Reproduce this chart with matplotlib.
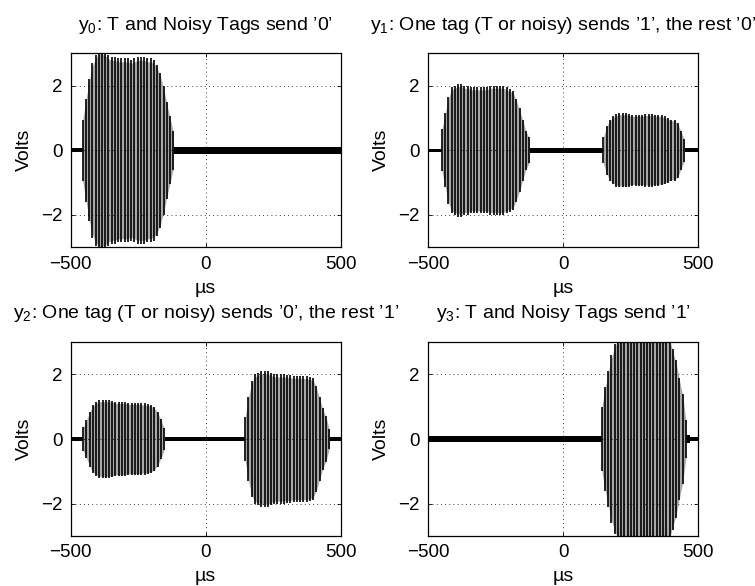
import numpy as np
import matplotlib
matplotlib.use("Agg")
import matplotlib.pyplot as plt

plt.rcParams['font.family'] = ['Liberation Sans', 'DejaVu Sans']
plt.rcParams['mathtext.fontset'] = 'custom'
plt.rcParams['mathtext.rm'] = 'Liberation Sans'
plt.rcParams['mathtext.it'] = 'Liberation Sans'
plt.rcParams['font.size'] = 14

# stroke spacing of the RF bursts (microseconds)
STEP = 12

titles = [
    "y$_0$: T and Noisy Tags send ’0’",
    "y$_1$: One tag (T or noisy) sends ’1’, the rest ’0’",
    "y$_2$: One tag (T or noisy) sends ’0’, the rest ’1’",
    "y$_3$: T and Noisy Tags send ’1’",
]

# bursts: (start time in us, peak amplitude of each stroke in volts)
y0_bursts = [
    (-456, [0.95, 1.6, 2.2, 2.7, 2.95, 3.1, 3.1, 3.05, 2.95, 2.9, 2.9, 2.85, 2.85,
            2.85, 2.85, 2.8, 2.85, 2.9, 2.9, 2.9, 2.85, 2.85, 2.8, 2.65, 2.4, 2.0,
            1.5, 1.05, 0.6]),
]
y1_bursts = [
    (-450, [0.65, 1.15, 1.65, 1.95, 2.0, 2.05, 2.05, 2.0, 2.0, 1.95, 1.95, 1.95,
            1.95, 1.95, 1.95, 2.0, 2.0, 2.0, 2.0, 2.0, 1.95, 1.9, 1.85, 1.6, 1.3,
            0.95, 0.6, 0.4]),
    (148, [0.4, 0.75, 0.95, 1.05, 1.12, 1.15, 1.15, 1.15, 1.12, 1.1, 1.1, 1.1,
           1.1, 1.12, 1.12, 1.12, 1.1, 1.1, 1.08, 1.05, 1.0, 0.95, 0.95, 0.85,
           0.6, 0.35]),
]
y2_bursts = [
    (-454, [0.36, 0.6, 0.85, 1.05, 1.15, 1.2, 1.2, 1.2, 1.2, 1.18, 1.15, 1.15,
            1.15, 1.15, 1.12, 1.12, 1.12, 1.12, 1.1, 1.1, 1.08, 1.05, 1.0, 0.85,
            0.62, 0.35]),
    (146, [0.67, 1.3, 1.8, 2.0, 2.05, 2.1, 2.1, 2.1, 2.05, 2.0, 2.0, 2.0, 2.0,
           1.98, 1.98, 1.95, 1.95, 1.95, 1.95, 1.95, 1.92, 1.9, 1.65, 1.3, 0.95,
           0.7, 0.3]),
]
y3_bursts = [
    (142, [1.0, 1.6, 2.1, 2.6, 2.95, 3.2, 3.2, 3.2, 3.2, 3.2, 3.2, 3.2, 3.2, 3.2,
           3.2, 3.2, 3.2, 3.2, 3.2, 3.2, 3.2, 3.2, 2.8, 2.45, 1.9, 1.4, 0.6]),
]

# quiet segments: (start, end, half-width of noise band in volts)
y0_noise = [(-500, -456, 0.06), (-125, 500, 0.1)]
y1_noise = [(-500, -450, 0.05), (-123, 148, 0.075), (451, 500, 0.06)]
y2_noise = [(-500, -454, 0.06), (-152, 146, 0.065), (458, 500, 0.05)]
y3_noise = [(-500, 142, 0.085), (450, 470, 0.12), (470, 500, 0.05)]

panels = [(y0_bursts, y0_noise), (y1_bursts, y1_noise),
          (y2_bursts, y2_noise), (y3_bursts, y3_noise)]

fig = plt.figure(figsize=(7.55, 5.86), dpi=100)
lefts = [0.0936, 0.5673, 0.0936, 0.5673]
bottoms = [0.578, 0.578, 0.0853, 0.0853]

for i, (bursts, noise) in enumerate(panels):
    ax = fig.add_axes([lefts[i], bottoms[i], 0.3576, 0.331])
    for t0, t1, band in noise:
        ax.fill_between([t0, t1], [-band, -band], [band, band], color='k', lw=0)
    for start, amps in bursts:
        a = np.array(amps)
        t = start + STEP * np.arange(len(a))
        ax.fill_between(t, -a * 0.96, a * 0.96, color='0.66', lw=0)
        ax.vlines(t, -a, a, color='k', lw=1.2)
    ax.set_xlim(-500, 500)
    ax.set_ylim(-3, 3)
    ax.set_xticks([-500, 0, 500])
    ax.set_yticks([-2, 0, 2])
    ax.tick_params(direction='in', length=3, width=0.6, top=True, right=True,
                   labelsize=13.5, pad=6)
    ax.grid(True, color='k', linestyle=(0, (1, 4)), linewidth=0.6)
    ax.set_axisbelow(False)
    for s in ax.spines.values():
        s.set_linewidth(0.9)
    ax.set_title(titles[i], fontsize=14, pad=17)
    ax.set_xlabel("µs", fontsize=14, labelpad=5)
    ax.set_ylabel("Volts", fontsize=14, labelpad=6)

fig.savefig("out.png", dpi=100)
